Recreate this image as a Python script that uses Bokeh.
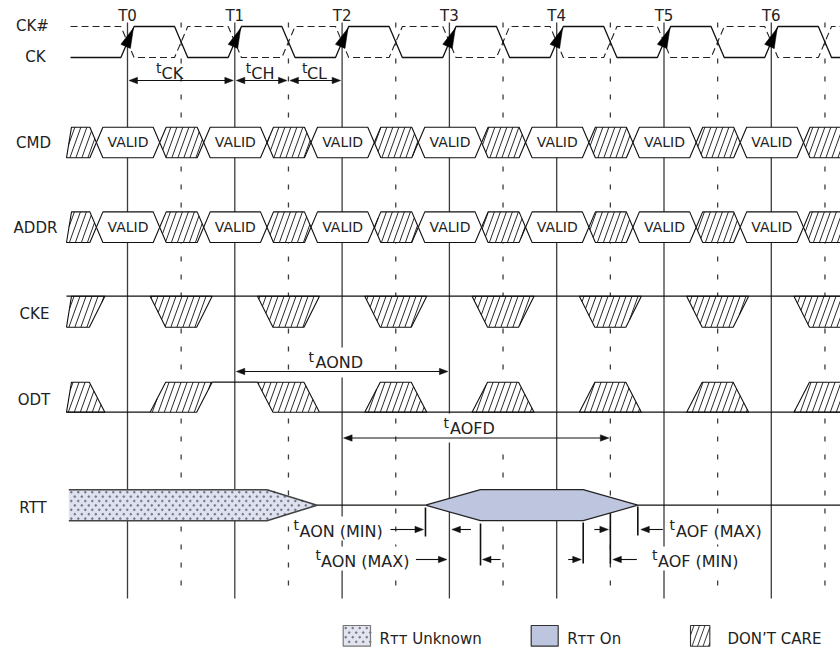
import numpy as np
from bokeh.plotting import figure
from bokeh.models import Range1d
from bokeh.core.properties import value
from bokeh.embed import file_html
from bokeh.resources import INLINE

# ---------------- chart data (time in clock cycles, T0 = 0) ----------------
T_NAMES = ["T0", "T1", "T2", "T3", "T4", "T5", "T6"]
T_EDGES = [0, 1, 2, 3, 4, 5, 6]
HALF_EDGES = [0.5, 1.5, 2.5, 3.5, 4.5, 5.5, 6.5]
ROW_NAMES = ["CK#", "CK", "CMD", "ADDR", "CKE", "ODT", "RTT"]
CLOCK_START = -0.531
SIG_START = -0.569
CMD_VALID = [0, 1, 2, 3, 4, 5, 6]
ADDR_VALID = [0, 1, 2, 3, 4, 5, 6]
VALID_WINDOW = [-0.29, 0.30]
CKE_DONT_CARE = [-0.5, 0.5, 1.5, 2.5, 3.5, 4.5, 5.5, 6.5]
ODT_TIMES = [-0.5, 0.5, 1.5, 2.5, 3.5, 4.5, 5.5, 6.5]
ODT_KINDS = ["pulse", "rise", "fall", "pulse", "pulse", "pulse", "pulse", "pulse"]
RTT_UNKNOWN = [-0.547, 1.30, 1.767]          # start, taper start, end
RTT_ON = [2.777, 3.29, 4.247, 4.756]         # apex, corner, corner, apex
T_CK = [0, 1]
T_CH = [1, 1.5]
T_CL = [1.5, 2]
T_AOND = [1, 3]
T_AOFD = [2, 4.5]
T_AON_MIN = [2.777, 3.0]
T_AON_MAX = [3.0, 3.29]
T_AOF_MIN = [4.247, 4.5]
T_AOF_MAX = [4.5, 4.756]
LEGEND_LABELS = ["R\u1d1b\u1d1b Unknown", "R\u1d1b\u1d1b On", "DON\u2019T CARE"]

# ---------------- layout (reference pixel space) ----------------
ORIGIN = 127.0
CYC = 107.3
FONT = value("DejaVu Sans")
TXT = "#222222"
TEXT_DY = -5.5
W, H = 840, 656
Y_CK_HI, Y_CK_LO = 26.0, 57.0
Y_CMD, Y_ADDR, BUS_H = 142.0, 226.7, 15.3
Y_CKE_T, Y_CKE_B = 295.7, 326.7
Y_ODT_H, Y_ODT_L = 381.7, 411.7
Y_RTT, RTT_H = 504.7, 15.5
XW = 6.5          # bus transition half width
EW = 6.6          # clock edge half width
WIDE, NARROW = 31.0, 15.5
RIGHT = 860.0


def tx(t):
    return ORIGIN + CYC * t


def X(pxs):
    return [(v - ORIGIN) / CYC for v in pxs]


p = figure(width=W, height=H, x_range=Range1d(X([0])[0], X([W])[0]),
           y_range=Range1d(H, 0), output_backend="svg", toolbar_location=None,
           min_border=0, x_axis_location=None, y_axis_location=None)
p.grid.visible = False
p.outline_line_color = None
p.background_fill_color = "white"
p.border_fill_color = "white"


def clip_left(poly, ytop, ybot, x_bot=66.0, x_top=71.0):
    def g(q):
        return q[0] - (x_bot + (x_top - x_bot) * (ybot - q[1]) / (ybot - ytop))
    out = []
    n = len(poly)
    for i in range(n):
        P, Q = poly[i], poly[(i + 1) % n]
        gp, gq = g(P), g(Q)
        if gp >= 0:
            out.append(P)
        if (gp >= 0) != (gq >= 0):
            r = gp / (gp - gq)
            out.append((P[0] + r * (Q[0] - P[0]), P[1] + r * (Q[1] - P[1])))
    return out


def hatch(poly, spacing=6.0, s=0.36):
    pts = np.array(poly, float)
    u = pts[:, 0] + s * pts[:, 1]
    segs = []
    n = len(pts)
    for k in np.arange(np.ceil(u.min() / spacing), np.floor(u.max() / spacing) + 1):
        uu = k * spacing
        hits = []
        for i in range(n):
            a, b = pts[i], pts[(i + 1) % n]
            fa, fb = a[0] + s * a[1] - uu, b[0] + s * b[1] - uu
            if (fa <= 0 < fb) or (fb <= 0 < fa):
                r = fa / (fa - fb)
                hits.append(a + r * (b - a))
        if len(hits) >= 2:
            hits.sort(key=lambda q: q[1])
            segs.append(([hits[0][0], hits[-1][0]], [hits[0][1], hits[-1][1]]))
    return segs


def inside(poly, x, y):
    sgn = 0
    n = len(poly)
    for i in range(n):
        (x1, y1), (x2, y2) = poly[i], poly[(i + 1) % n]
        c = (x2 - x1) * (y - y1) - (y2 - y1) * (x - x1)
        if abs(c) < 1e-9:
            continue
        s = 1 if c > 0 else -1
        if sgn == 0:
            sgn = s
        elif s != sgn:
            return False
    return True


def dots(poly, dx=7.0, dy=4.4):
    xs, ys = [], []
    arr = np.array(poly)
    y = arr[:, 1].min() + 2.5
    row = 0
    while y < arr[:, 1].max() - 1.5:
        x = arr[:, 0].min() + 2.5 + (dx / 2 if row % 2 else 0)
        while x < arr[:, 0].max():
            if inside(poly, x, y):
                xs.append(x)
                ys.append(y)
            x += dx
        y += dy
        row += 1
    return xs, ys


def text(xs, ys, labels, size, align="left", color=TXT):
    p.text(x=X(xs), y=[v + TEXT_DY for v in ys], text=labels, text_font=FONT,
           text_font_size=size, text_align=align, text_baseline="alphabetic",
           text_color=color)


# ---------------- vertical reference lines ----------------
p.multi_line([X([tx(t), tx(t)]) for t in T_EDGES], [[22, 598]] * len(T_EDGES),
             line_color="#3c3c3c", line_width=1.3)
p.multi_line([X([tx(t), tx(t)]) for t in HALF_EDGES], [[22, 598]] * len(HALF_EDGES),
             line_color="#3c3c3c", line_width=1.3, line_dash="5 13")

# ---------------- clock ----------------
ckx, cky = [tx(CLOCK_START)], [Y_CK_LO]
for t in T_EDGES:
    ckx += [tx(t) - EW, tx(t) + EW, tx(t + 0.5) - EW, tx(t + 0.5) + EW]
    cky += [Y_CK_LO, Y_CK_HI, Y_CK_HI, Y_CK_LO]
ckx.append(RIGHT)
cky.append(Y_CK_LO)
cknot_y = [Y_CK_HI + Y_CK_LO - v for v in cky]
p.line(X(ckx), cknot_y, line_color="#222222", line_width=1.1, line_dash="7 4")
p.line(X(ckx), cky, line_color="#111111", line_width=1.3)

# clock-edge arrowheads
heads_x, heads_y = [], []
ux, uy = 2 * EW, -(Y_CK_LO - Y_CK_HI)
ln = np.hypot(ux, uy)
ux, uy = ux / ln, uy / ln
nx, ny = -uy, ux
for t in T_EDGES:
    tip_y = Y_CK_HI + 1.5
    tip_x = tx(t) - EW + 2 * EW * (Y_CK_LO - tip_y) / (Y_CK_LO - Y_CK_HI)
    bx, by = tip_x - 20 * ux, tip_y - 20 * uy
    heads_x.append(X([tip_x, bx + 5.2 * nx, bx - 5.2 * nx]))
    heads_y.append([tip_y, by + 5.2 * ny, by - 5.2 * ny])
p.patches(heads_x, heads_y, fill_color="black", line_color="black", line_width=0.5)

# ---------------- white label backgrounds ----------------
BG = [(306, 366, 347, 377), (438, 506, 413, 442), (291, 389, 516, 540),
      (313, 412, 546, 570), (667, 766, 516, 540), (649, 741, 546, 570)]
p.patches([X([a, b, b, a]) for a, b, c, d in BG], [[c, c, d, d] for a, b, c, d in BG],
          fill_color="white", line_color=None)

# ---------------- bus rows (CMD, ADDR) ----------------
white_polys, dc_polys = [], []
for yc, valid in ((Y_CMD, CMD_VALID), (Y_ADDR, ADDR_VALID)):
    top, bot = yc - BUS_H, yc + BUS_H
    cross = []
    for v in valid:
        L, R = tx(v + VALID_WINDOW[0]), tx(v + VALID_WINDOW[1])
        cross.append((L, R))
        white_polys.append([(L, yc), (L + XW, top), (R - XW, top), (R, yc), (R - XW, bot), (L + XW, bot)])
    first = [(40, bot), (40, top), (cross[0][0] - XW, top), (cross[0][0], yc), (cross[0][0] - XW, bot)]
    dc_polys.append(clip_left(first, top, bot))
    for (L0, R0), (L1, R1) in zip(cross[:-1], cross[1:]):
        dc_polys.append([(R0, yc), (R0 + XW, top), (L1 - XW, top), (L1, yc), (L1 - XW, bot), (R0 + XW, bot)])
    R = cross[-1][1]
    dc_polys.append([(R, yc), (R + XW, top), (RIGHT, top), (RIGHT, bot), (R + XW, bot)])

# CKE don't-care windows (inverted trapezoids)
for c in CKE_DONT_CARE:
    c = tx(c)
    poly = [(c - WIDE, Y_CKE_T), (c + WIDE, Y_CKE_T), (c + NARROW, Y_CKE_B), (c - NARROW, Y_CKE_B)]
    dc_polys.append(clip_left(poly, Y_CKE_T, Y_CKE_B))

# ODT transitions
lvl_segs = [([tx(SIG_START), RIGHT], [Y_CKE_T, Y_CKE_T])]
cur_y, cur_x = Y_ODT_L, tx(SIG_START)
for t, kind in zip(ODT_TIMES, ODT_KINDS):
    c = tx(t)
    if kind == "pulse":
        poly = [(c - WIDE, Y_ODT_L), (c - NARROW, Y_ODT_H), (c + NARROW, Y_ODT_H), (c + WIDE, Y_ODT_L)]
    elif kind == "rise":
        poly = [(c - WIDE, Y_ODT_L), (c - NARROW, Y_ODT_H), (c + WIDE, Y_ODT_H), (c + NARROW, Y_ODT_L)]
        lvl_segs.append(([cur_x, c - WIDE], [cur_y, cur_y]))
        cur_y, cur_x = Y_ODT_H, c + WIDE
    else:
        poly = [(c - WIDE, Y_ODT_H), (c + NARROW, Y_ODT_H), (c + WIDE, Y_ODT_L), (c - NARROW, Y_ODT_L)]
        lvl_segs.append(([cur_x, c - WIDE], [cur_y, cur_y]))
        cur_y, cur_x = Y_ODT_L, c + WIDE
    dc_polys.append(clip_left(poly, Y_ODT_H, Y_ODT_L))
lvl_segs.append(([cur_x, RIGHT], [cur_y, cur_y]))

p.patches([X([q[0] for q in pl]) for pl in white_polys], [[q[1] for q in pl] for pl in white_polys],
          fill_color="white", line_color="#111111", line_width=1.1)
p.patches([X([q[0] for q in pl]) for pl in dc_polys], [[q[1] for q in pl] for pl in dc_polys],
          fill_color="white", line_color="#111111", line_width=1.1)
hs = []
for pl in dc_polys:
    hs += hatch(pl)
p.multi_line([X(a) for a, b in hs], [b for a, b in hs], line_color="#111111", line_width=0.9)
p.multi_line([X(a) for a, b in lvl_segs], [b for a, b in lvl_segs], line_color="#111111", line_width=1.2)

# VALID labels
vx, vy = [], []
for yc, valid in ((Y_CMD, CMD_VALID), (Y_ADDR, ADDR_VALID)):
    for v in valid:
        vx.append(tx(v + (VALID_WINDOW[0] + VALID_WINDOW[1]) / 2))
        vy.append(yc + 5.0)
text(vx, vy, ["VALID"] * len(vx), "14px", "center")

# ---------------- RTT ----------------
rt, rb = Y_RTT - RTT_H, Y_RTT + RTT_H
unk = [(tx(RTT_UNKNOWN[0]), rt), (tx(RTT_UNKNOWN[1]), rt), (tx(RTT_UNKNOWN[2]), Y_RTT),
       (tx(RTT_UNKNOWN[1]), rb), (tx(RTT_UNKNOWN[0]), rb)]
p.patch(X([q[0] for q in unk]), [q[1] for q in unk], fill_color="#dee1ef", line_color=None)
dxs, dys = dots(unk)
p.scatter(X(dxs), dys, size=1.7, color="#7a7a86", marker="circle")
p.line(X([q[0] for q in unk]), [q[1] for q in unk], line_color="#444444", line_width=1.6)
on = [(tx(RTT_ON[0]), Y_RTT), (tx(RTT_ON[1]), rt), (tx(RTT_ON[2]), rt), (tx(RTT_ON[3]), Y_RTT),
      (tx(RTT_ON[2]), rb), (tx(RTT_ON[1]), rb)]
p.patch(X([q[0] for q in on]), [q[1] for q in on], fill_color="#bec5df", line_color="#222222", line_width=1.2)
p.multi_line([X([tx(RTT_UNKNOWN[2]), tx(RTT_ON[0])]), X([tx(RTT_ON[3]), RIGHT])],
             [[Y_RTT, Y_RTT], [Y_RTT, Y_RTT]], line_color="#111111", line_width=1.2)

# measurement ticks
Y_A1, Y_A2 = 529.0, 559.0
TICKS = [(T_AON_MIN[0], 507, 536), (T_AON_MAX[1], 523, 565), (T_AOF_MIN[0], 522, 563),
         (T_AOF_MAX[0], 513, 563), (T_AOF_MAX[1], 506, 535)]
p.multi_line([X([tx(t), tx(t)]) for t, a, b in TICKS], [[a, b] for t, a, b in TICKS],
             line_color="#111111", line_width=1.6)

# ---------------- arrows ----------------
a_segs, a_heads = [], []


def head(xtip, y, d):
    a_heads.append(([xtip, xtip - d * 8.5, xtip - d * 8.5], [y, y - 3.2, y + 3.2]))


def double_arrow(t0, t1, y):
    x0, x1 = tx(t0) + 1.5, tx(t1) - 1.5
    a_segs.append(([x0 + 5, x1 - 5], [y, y]))
    head(x0, y, -1)
    head(x1, y, 1)


def single(xtip, y, d, length):
    a_segs.append(([xtip - d * length, xtip - d * 5], [y, y]))
    head(xtip, y, d)


double_arrow(T_CK[0], T_CK[1], 80)
double_arrow(T_CH[0], T_CH[1], 80)
double_arrow(T_CL[0], T_CL[1], 80)
double_arrow(T_AOND[0], T_AOND[1], 371)
double_arrow(T_AOFD[0], T_AOFD[1], 437.5)
single(tx(T_AON_MIN[0]) - 2, Y_A1, 1, 33)
single(tx(T_AON_MIN[1]) + 2.5, Y_A1, -1, 19)
single(tx(T_AON_MAX[0]) - 2.5, Y_A2, 1, 31)
single(tx(T_AON_MAX[1]) + 2, Y_A2, -1, 18)
single(tx(T_AOF_MAX[0]) - 2, Y_A1, 1, 14)
single(tx(T_AOF_MAX[1]) + 3, Y_A1, -1, 22)
single(tx(T_AOF_MIN[0]) - 2, Y_A2, 1, 13)
single(tx(T_AOF_MIN[1]) + 2.5, Y_A2, -1, 24)
p.multi_line([X(a) for a, b in a_segs], [b for a, b in a_segs], line_color="#111111", line_width=1.1)
p.patches([X(a) for a, b in a_heads], [b for a, b in a_heads], fill_color="#111111",
          line_color="#111111", line_width=0.5)

# ---------------- texts ----------------
text([tx(t) for t in T_EDGES], [20.5] * 7, T_NAMES, "15px", "center")
text([32, 35, 33, 35, 34, 33.5, 32.5], [30.5, 61.5, 148.3, 233.3, 319.3, 405, 513.3],
     ROW_NAMES, "15px", "center")

# timing parameter names: small "t" + subscript-like name
T_SMALL_X = [tx(T_CK[0]) + 28.5, tx(T_CH[0]) + 11, tx(T_CL[0]) + 13.5, 308, 443,
             293, 315, 669, 651.5]
T_SMALL_Y = [73, 73, 73, 362, 428, 530, 560, 530, 560]
NAME_X = [tx(T_CK[0]) + 34, tx(T_CH[0]) + 16.5, tx(T_CL[0]) + 18.5, 315, 449.5,
          299, 320.5, 675.5, 657.5]
NAME_Y = [78.5, 78.5, 78.5, 367, 433, 536.5, 566.5, 536.5, 566.5]
NAMES = ["CK", "CH", "CL", "AOND", "AOFD", "AON (MIN)", "AON (MAX)", "AOF (MAX)", "AOF (MIN)"]
text(T_SMALL_X, T_SMALL_Y, ["t"] * len(T_SMALL_X), "14px")
text(NAME_X, NAME_Y, NAMES, "16px")

# ---------------- legend ----------------
LY0, LY1 = 625.0, 645.7
box1 = [(342.7, LY0), (370, LY0), (370, LY1), (342.7, LY1)]
p.patch(X([q[0] for q in box1]), [q[1] for q in box1], fill_color="#e2e4f0",
        line_color="#777777", line_width=1.2)
dxs, dys = dots(box1, 7.0, 4.6)
p.scatter(X(dxs), dys, size=1.7, color="#7a7a86", marker="circle")
box2 = [(530.7, LY0), (557.7, LY0), (557.7, LY1), (530.7, LY1)]
p.patch(X([q[0] for q in box2]), [q[1] for q in box2], fill_color="#bec5df",
        line_color="#333333", line_width=1.2)
box3 = [(690, LY0), (709.3, LY0), (709.3, LY1), (690, LY1)]
p.patch(X([q[0] for q in box3]), [q[1] for q in box3], fill_color="white",
        line_color="#333333", line_width=1.1)
hs = hatch(box3, 5.5)
p.multi_line([X(a) for a, b in hs], [b for a, b in hs], line_color="#222222", line_width=0.9)

text([379, 566.7, 727], [644, 644, 644], LEGEND_LABELS, "15px")

open("out.html", "w").write(file_html(p, INLINE))
